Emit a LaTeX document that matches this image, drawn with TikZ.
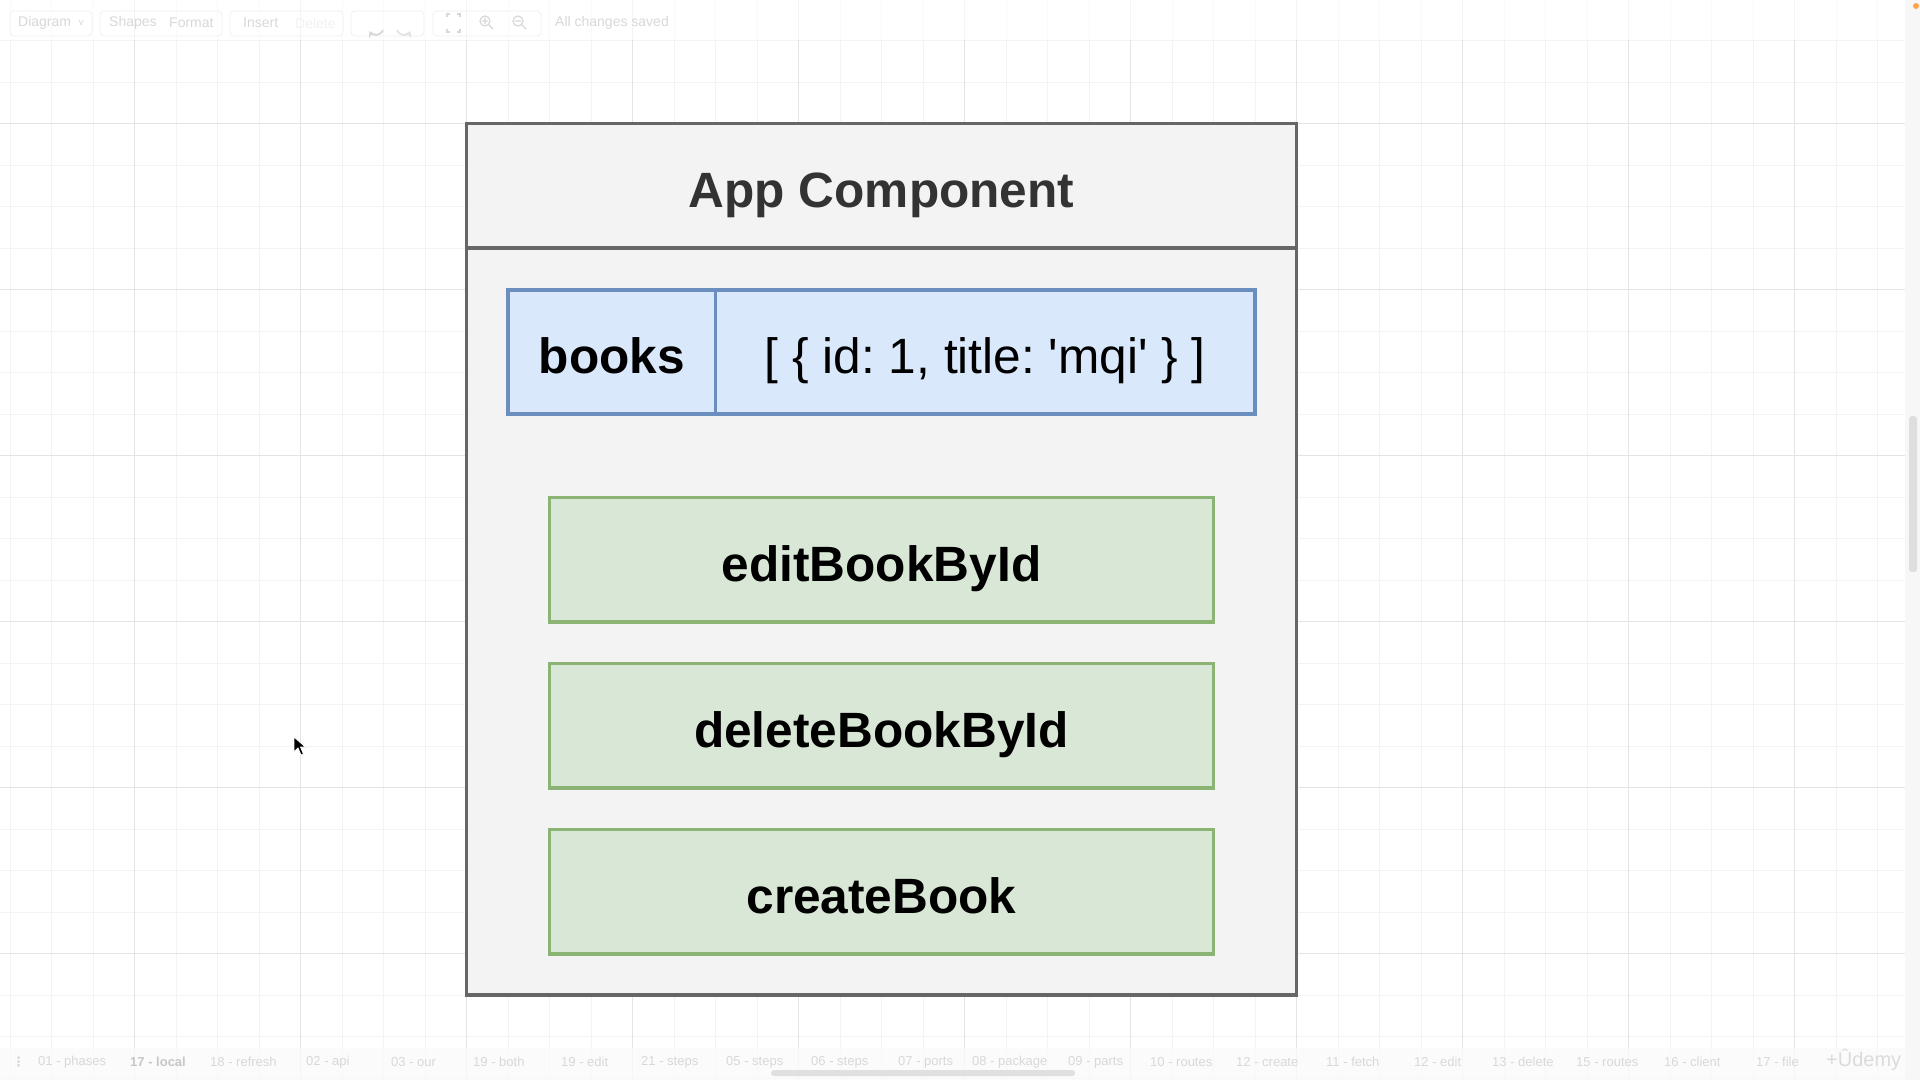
\documentclass[tikz,border=0pt]{standalone}
\usepackage{fontspec}
\setmainfont{Liberation Sans}
\newfontfamily\valfont{Liberation Sans}
\newfontfamily\dejavu{DejaVu Sans}
\usetikzlibrary{arrows.meta}
\frenchspacing
\definecolor{gridminor}{HTML}{F3F3F3}
\definecolor{gridmajor}{HTML}{E4E4E4}
\definecolor{appfill}{HTML}{F3F3F3}
\definecolor{appline}{HTML}{666666}
\definecolor{apptext}{HTML}{333333}
\definecolor{bluefill}{HTML}{DAE8FC}
\definecolor{blueline}{HTML}{6C8EBF}
\definecolor{greenfill}{HTML}{D9E7D6}
\definecolor{greenline}{HTML}{8AB374}
\definecolor{uitext}{HTML}{D8D8D8}
\definecolor{uiline}{HTML}{F0F0F0}
\tikzset{
  bigfont/.style={font=\bfseries\fontsize{49.6}{60}\selectfont, text height=43pt, text depth=0pt},
  appbox/.style={draw=appline, line width=3.5pt, fill=appfill, inner sep=0pt, outer sep=0pt},
  keycell/.style={draw=blueline, line width=3.5pt, fill=bluefill, inner sep=0pt, outer sep=0pt, minimum height=124pt},
  fnbox/.style={draw=greenline, line width=3.5pt, fill=greenfill, inner sep=0pt, outer sep=0pt,
    minimum width=664pt, minimum height=124.5pt, bigfont},
  uibtn/.style={draw=uiline, line width=0.8pt, rounded corners=4pt},
  uilabel/.style={text=uitext, font=\fontsize{14}{16}\selectfont, anchor=west, inner sep=0pt},
  tablabel/.style={text=uitext, font=\fontsize{13}{15}\selectfont, anchor=west, inner sep=0pt},
}
\begin{document}
\begin{tikzpicture}[x=1pt,y=-1pt]
\useasboundingbox (0,0) rectangle (1920,1080);
\fill[white] (0,0) rectangle (1920,1080);
% grid
\foreach \i in {0,...,46} {\draw[gridminor, line width=1pt] ({10+41.5*\i},0) -- ({10+41.5*\i},1080);}
\foreach \i in {0,...,25} {\draw[gridminor, line width=1pt] (0,{40.7+41.5*\i}) -- (1905,{40.7+41.5*\i});}
\foreach \i in {0,...,10} {\draw[gridmajor, line width=1.2pt] ({134.5+166*\i},0) -- ({134.5+166*\i},1080);}
\foreach \i in {0,...,5} {\draw[gridmajor, line width=1.2pt] (0,{123.7+166*\i}) -- (1905,{123.7+166*\i});}
% right panel and scrollbar
\fill[white!97!black] (1905,0) rectangle (1920,1080);
\fill[white!87!black, rounded corners=3pt] (1909,416) rectangle (1917,572);
\fill[orange!70] (1916,6) circle (3);
% toolbar
\fill[white, opacity=0.6] (0,0) rectangle (1905,40);
\draw[uibtn] (10,11) rectangle (92,36);
\draw[uibtn] (100,11) rectangle (222,36);
\draw[uibtn] (230,11) rectangle (343,36);
\draw[uibtn] (351,11) rectangle (424,36);
\draw[uibtn] (433,11) rectangle (541,36);
\node[uilabel] (tbdiagram) at (18,23) {Diagram \ \raisebox{1pt}{\scalebox{0.7}{v}}};
\node[uilabel] (tbshapes) at (109,23) {Shapes};
\node[uilabel] (tbformat) at (169,23) {Format};
\node[uilabel] (tbinsert) at (243,23) {Insert};
\node[uilabel, text=white!95!black] (tbdelete) at (295,23) {Delete};
\node[uilabel] (tbsaved) at (555,23) {All changes saved};
\draw[uitext, line width=1.8pt, -{Stealth[length=6pt,width=8pt]}] (383,30) arc (20:150:7.5);
\draw[uitext!70!white, line width=1.8pt, -{Stealth[length=6pt,width=8pt]}] (397,30) arc (160:30:7.5);
\draw[uitext, line width=1.2pt] (447,17)--(447,14)--(450,14) (457,14)--(460,14)--(460,17) (447,29)--(447,32)--(450,32) (457,32)--(460,32)--(460,29);
\draw[uitext, line width=1.2pt] (485,21) circle (5) (489,25)--(493,29) (482,21)--(488,21) (485,18)--(485,24);
\draw[uitext, line width=1.2pt] (518,21) circle (5) (522,25)--(526,29) (515,21)--(521,21);
% bottom tab bar
\fill[white!98!black, opacity=0.8] (0,1048) rectangle (1905,1080);
\fill[white!88!black, rounded corners=3pt] (771,1070) rectangle (1075,1076);
\node[tablabel, font=\dejavu\bfseries\fontsize{13}{15}\selectfont] (tdots) at (12,1062) {⋮};
\node[tablabel] (t01) at (38,1062) {01 - phases};
\node[tablabel, font=\bfseries\fontsize{13}{15}\selectfont, text=white!78!black] (t17) at (130,1062) {17 - local};
\node[tablabel] (t18) at (210,1062) {18 - refresh};
\node[tablabel] (t02) at (306,1062) {02 - api};
\node[tablabel] (t03) at (391,1062) {03 - our};
\node[tablabel] (t19a) at (473,1062) {19 - both};
\node[tablabel] (t19b) at (561,1062) {19 - edit};
\node[tablabel] (t21) at (641,1062) {21 - steps};
\node[tablabel] (t05) at (726,1062) {05 - steps};
\node[tablabel] (t06) at (811,1062) {06 - steps};
\node[tablabel] (t07) at (898,1062) {07 - ports};
\node[tablabel] (t08) at (972,1062) {08 - package};
\node[tablabel] (t09) at (1068,1062) {09 - parts};
\node[tablabel] (t10) at (1150,1062) {10 - routes};
\node[tablabel] (t12a) at (1236,1062) {12 - create};
\node[tablabel] (t11) at (1326,1062) {11 - fetch};
\node[tablabel] (t12b) at (1414,1062) {12 - edit};
\node[tablabel] (t13) at (1492,1062) {13 - delete};
\node[tablabel] (t15) at (1576,1062) {15 - routes};
\node[tablabel] (t16) at (1664,1062) {16 - client};
\node[tablabel] (t17f) at (1756,1062) {17 - file};
\node[tablabel, font=\fontsize{20}{22}\selectfont, text=white!86!black] (udemy) at (1826,1060) {+Ûdemy};
% mouse cursor
\filldraw[fill=black, draw=white, line width=0.8pt] (294,737) -- (294,752) -- (298,748) -- (301,755) -- (303.5,754) -- (300.5,747) -- (305.5,747) -- cycle;
% main diagram
\node[appbox, minimum width=830pt, minimum height=871.3pt] (app) at (881.5,559.35) {};
\draw[appline, line width=3.5pt] (466.5,248) -- (1296.5,248);
\node[bigfont, text=apptext, inner sep=0pt] (title) at (881.5,185.5) {App Component};
\node[keycell, minimum width=207.5pt, bigfont] (books) at (611.75,352) {books};
\node[keycell, minimum width=539.5pt, font=\valfont\fontsize{49.6}{60}\selectfont\frenchspacing, text height=43pt, text depth=0pt] (value) at (985.25,352) {[ \{ id: 1, title: 'mqi' \} ]};
\node[fnbox] (edit) at (881.5,559.5) {editBookById};
\node[fnbox] (delete) at (881.5,725.7) {deleteBookById};
\node[fnbox] (create) at (881.5,891.5) {createBook};
\end{tikzpicture}
\end{document}
